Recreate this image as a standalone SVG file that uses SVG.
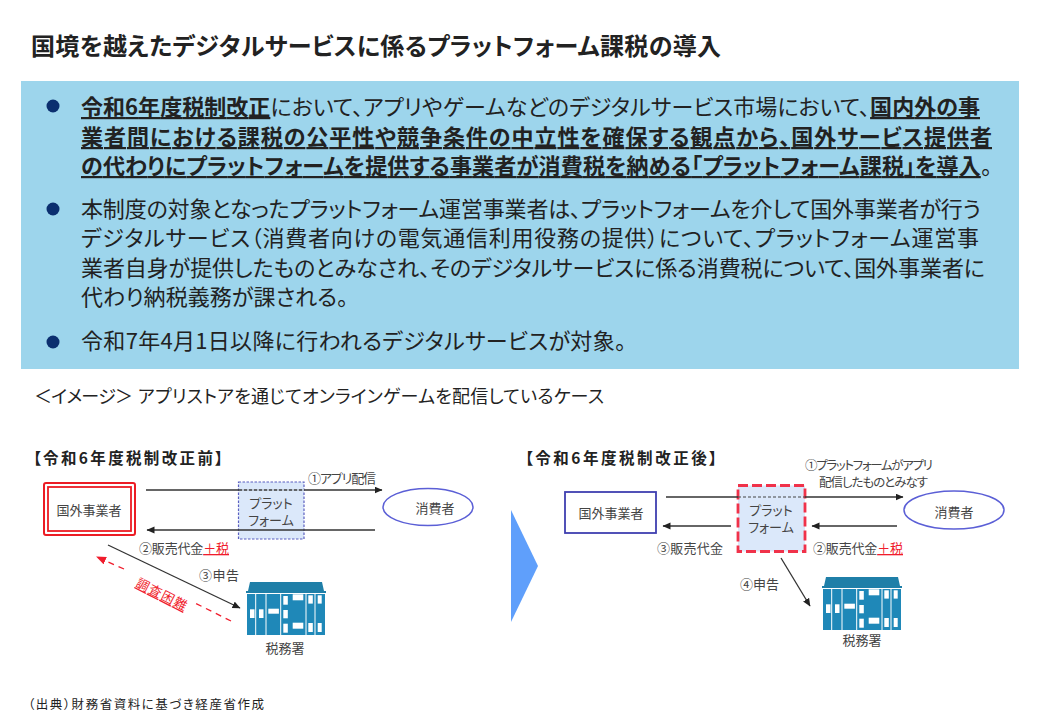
<svg xmlns="http://www.w3.org/2000/svg" xmlns:xlink="http://www.w3.org/1999/xlink" width="1040" height="720" viewBox="0 0 1040 720">
<style>
text{font-family:"Noto Sans CJK JP","Noto Sans",sans-serif;fill:#222;font-feature-settings:"palt"}
.b{font-size:22px}
.bd{font-weight:700;text-decoration:underline}
.l{font-size:13px;fill:#444}
.s{font-size:12.500px;fill:#444}
.n{font-size:13px;fill:#444;text-anchor:middle}
.h{font-size:15.500px;font-weight:700}
.r{fill:#f01c2c;text-decoration:underline}
.ln{stroke:#333;stroke-width:1.600;fill:none}
.dot{fill:#0b2f6f}
</style>
<defs>
<marker id="a" markerWidth="9" markerHeight="8" refX="7.500" refY="3.500" orient="auto" markerUnits="userSpaceOnUse"><path d="M0 0L8 3.500L0 7z" fill="#222"/></marker>
<marker id="ar" markerWidth="11" markerHeight="9" refX="9" refY="4" orient="auto" markerUnits="userSpaceOnUse"><path d="M0 0L10 4L0 8z" fill="#f01c2c"/></marker>
<g id="bldg">
<path d="M2 9L4 0H76L78 9H80V11H0V9z" fill="#1f7fa8"/>
<rect x="1" y="12" width="78" height="41" fill="#1f88b8"/>
<g stroke="#fff" stroke-width="1"><path d="M9.700 12V53M20 12V53M34.700 12V53M60 12V53M69 12V53"/></g>
<g fill="#fff"><rect x="4" y="27.300" width="4.500" height="8.700"/><rect x="13" y="27.300" width="4.500" height="8.700"/><rect x="22.300" y="26.700" width="10.600" height="5"/><rect x="37.300" y="14" width="4.500" height="8.700"/><rect x="37.300" y="28" width="4.500" height="8.300"/><rect x="37.300" y="41.700" width="4.500" height="9"/><rect x="46.700" y="12.300" width="10.600" height="6"/><rect x="46.700" y="40.700" width="10.600" height="6"/><rect x="62.300" y="13.300" width="4.500" height="8.300"/><rect x="62.300" y="41" width="4.500" height="9"/><rect x="71.700" y="13.300" width="4" height="8.300"/><rect x="71.700" y="41" width="4" height="9"/></g>
</g>
</defs>
<rect width="1040" height="720" fill="#fff"/>
<text id="title" x="31" y="55" font-size="24" font-weight="700" textLength="690">国境を越えたデジタルサービスに係るプラットフォーム課税の導入</text>
<g id="panel">
<rect x="21" y="81" width="998" height="288" fill="#9dd5ec"/>
<circle class="dot" cx="53" cy="106" r="6.500"/><circle class="dot" cx="53" cy="209" r="6.500"/><circle class="dot" cx="53" cy="342" r="6.500"/>
<text class="b" x="81" y="115" textLength="899"><tspan class="bd">令和6年度税制改正</tspan>において、アプリやゲームなどのデジタルサービス市場において、<tspan class="bd">国内外の事</tspan></text>
<text class="b" x="81" y="145" textLength="911"><tspan class="bd">業者間における課税の公平性や競争条件の中立性を確保する観点から、国外サービス提供者</tspan></text>
<text class="b" x="81" y="174" textLength="911"><tspan class="bd">の代わりにプラットフォームを提供する事業者が消費税を納める「プラットフォーム課税」を導入</tspan>。</text>
<text class="b" x="81" y="217" textLength="900">本制度の対象となったプラットフォーム運営事業者は、プラットフォームを介して国外事業者が行う</text>
<text class="b" x="81" y="246" textLength="898">デジタルサービス（消費者向けの電気通信利用役務の提供）について、プラットフォーム運営事</text>
<text class="b" x="81" y="276" textLength="904">業者自身が提供したものとみなされ、そのデジタルサービスに係る消費税について、国外事業者に</text>
<text class="b" x="81" y="305" textLength="267">代わり納税義務が課される。</text>
<text class="b" x="81" y="349" textLength="545">令和7年4月1日以降に行われるデジタルサービスが対象。</text>
</g>
<text id="image-label" x="34" y="403" font-size="18" textLength="99">＜イメージ＞</text>
<text id="image-caption" x="138" y="403" font-size="18" textLength="466">アプリストアを通じてオンラインゲームを配信しているケース</text>
<g id="arrow-big"><path d="M511 510L538 566L511 622z" fill="#5f9ffb"/></g>

<text id="h-before" class="h" x="33" y="464" textLength="190">【令和6年度税制改正前】</text>
<text id="h-after" class="h" x="525" y="464" textLength="192">【令和6年度税制改正後】</text>

<g id="platform-before"><rect x="238.500" y="482" width="65.500" height="57" fill="#dbe8fa" stroke="#5b5fc0" stroke-width="1.200" stroke-dasharray="2.500 1.500"/>
<text class="n" x="271" y="508">プラット<tspan x="271" dy="17">フォーム</tspan></text></g>
<g id="foreign-before"><rect x="44" y="483" width="91" height="52" rx="2" fill="#fff" stroke="#ec1c24" stroke-width="2"/><rect x="48" y="487" width="83" height="44" fill="#fff" stroke="#ec1c24" stroke-width="1.800"/>
<text class="n" x="89" y="515">国外事業者</text></g>
<g id="consumer-before"><ellipse cx="428" cy="507" rx="45" ry="18.500" fill="#fff" stroke="#5b5fd6" stroke-width="1.500"/><text class="n" x="435" y="513">消費者</text></g>
<g id="tax-before"><use xlink:href="#bldg" href="#bldg" x="246" y="582"/><text class="n" x="285" y="653">税務署</text></g>

<g id="platform-after"><rect x="738" y="485.500" width="67" height="66" fill="#dbe8fa" stroke="#f0324a" stroke-width="2.800" stroke-dasharray="10 4"/>
<text class="n" x="771" y="515">プラット<tspan x="771" dy="17">フォーム</tspan></text></g>
<g id="foreign-after"><rect x="565" y="492" width="91" height="41" fill="#fff" stroke="#3f3fb0" stroke-width="1.800"/><text class="n" x="611" y="518">国外事業者</text></g>
<g id="consumer-after"><ellipse cx="954" cy="510" rx="50" ry="19" fill="#fff" stroke="#5b5fd6" stroke-width="1.500"/><text class="n" x="954" y="517">消費者</text></g>
<g id="tax-after"><use xlink:href="#bldg" href="#bldg" x="822" y="577"/><text class="n" x="862" y="645">税務署</text></g>

<g id="connectors">
<path class="ln" d="M146 490H382" marker-end="url(#a)"/>
<path class="ln" d="M375 530H147" marker-end="url(#a)"/>
<path d="M239 490H304" stroke="#dbe8fa" stroke-width="1.600"/><path d="M239 490H304" stroke="#444" stroke-width="1.600" stroke-dasharray="3 2"/>
<path d="M108 545L240 608" stroke="#333" stroke-width="1.300" fill="none" marker-end="url(#a)"/>
<path d="M231 621L195 603" stroke="#f01c2c" stroke-width="1.300" stroke-dasharray="6 5" fill="none"/>
<path d="M124 569L97 557" stroke="#f01c2c" stroke-width="1.300" stroke-dasharray="6 5" fill="none" marker-end="url(#ar)"/>
<path class="ln" d="M666 497H738"/><path class="ln" d="M805 497H903" marker-end="url(#a)"/>
<path d="M738 497H805" stroke="#444" stroke-width="1.200" stroke-dasharray="3 2"/>
<path class="ln" d="M731 526H663" marker-end="url(#a)"/>
<path class="ln" d="M897 526H812" marker-end="url(#a)"/>
<path d="M781 558L810 606" stroke="#333" stroke-width="1.300" fill="none" marker-end="url(#a)"/>
</g>
<g id="labels">
<text class="l" x="308" y="483" textLength="68">①アプリ配信</text>
<text class="l" x="139" y="553" textLength="90">②販売代金<tspan class="r">＋税</tspan></text>
<text class="l" x="199" y="580" textLength="40">③申告</text>
<text class="l" transform="translate(135 586) rotate(27)" style="fill:#f01c2c;text-decoration:underline" textLength="55">調査困難</text>
<text class="s" x="805" y="470" textLength="128">①プラットフォームがアプリ</text>
<text class="s" x="819" y="487" textLength="109">配信したものとみなす</text>
<text class="l" x="657" y="553" textLength="66">③販売代金</text>
<text class="l" x="813" y="553" textLength="90">②販売代金<tspan class="r">＋税</tspan></text>
<text class="l" x="740" y="589" textLength="39">④申告</text>
</g>
<text id="source" x="28" y="709" font-size="12.500" fill="#333" textLength="236">（出典）財務省資料に基づき経産省作成</text>
</svg>
